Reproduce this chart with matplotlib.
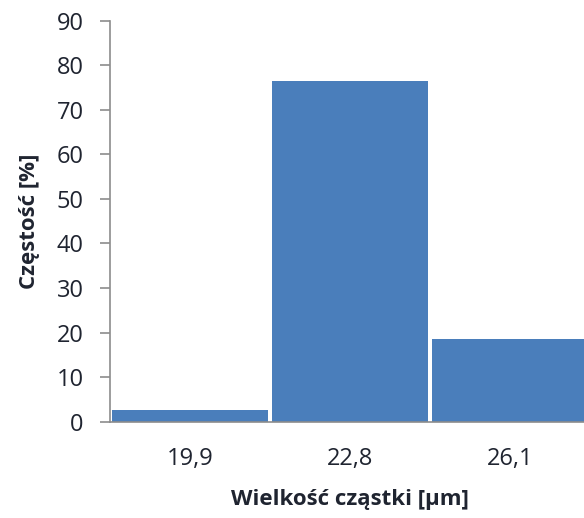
import matplotlib
matplotlib.use('Agg')
import matplotlib.pyplot as plt

# particle size classes and their frequencies
sizes = ['19,9', '22,8', '26,1']
freq = [2.6, 76.5, 18.6]
y_ticks = [0, 10, 20, 30, 40, 50, 60, 70, 80, 90]

bar_color = '#4A7EBB'
text_color = '#1F2430'
axis_color = '#8C8C8C'

plt.rcParams['font.family'] = ['Open Sans', 'DejaVu Sans']

fig = plt.figure(figsize=(5.84, 5.18), dpi=100)
# axes run slightly past the right edge, so the last bar is cut off
ax = fig.add_axes([0.1884, 0.186, 0.822, 0.774])

x = range(len(sizes))
ax.bar(x, freq, width=0.97, color=bar_color, edgecolor='none')

ax.set_xlim(-0.5, 2.5)
ax.set_ylim(0, 90)
ax.set_yticks(y_ticks)
ax.set_xticks(list(x))
ax.set_xticklabels(sizes)

for side in ['top', 'right']:
    ax.spines[side].set_visible(False)
for side in ['left', 'bottom']:
    ax.spines[side].set_color(axis_color)
    ax.spines[side].set_linewidth(1.2)

ax.tick_params(axis='y', direction='out', length=7, width=1.2, color=axis_color,
               labelsize=17, labelcolor=text_color, pad=12)
ax.tick_params(axis='x', length=0, labelsize=17, labelcolor=text_color, pad=18)

ax.set_ylabel('Częstość [%]', fontsize=16, fontweight='bold', color=text_color, labelpad=12)
ax.set_xlabel('Wielkość cząstki [μm]', fontsize=16, fontweight='bold', color=text_color, labelpad=13)

fig.savefig('out.png', dpi=100)
